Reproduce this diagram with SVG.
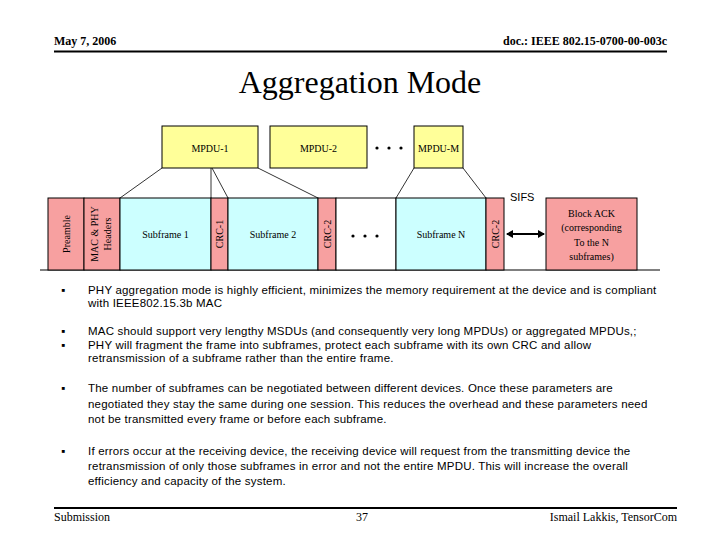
<svg xmlns="http://www.w3.org/2000/svg" width="720" height="540" viewBox="0 0 720 540">
<defs>
<style>
.serif{font-family:"Liberation Serif","Times New Roman",serif;fill:#000}
.sans{font-family:"Liberation Sans",Arial,sans-serif;fill:#000}
.box{stroke:#000;stroke-width:1}
.pink{fill:#F7A0A0}
.cyan{fill:#CCFFFF}
.yel{fill:#FFFF99}
.lbl{font-size:10px;text-anchor:middle}
.conn{stroke:#000;stroke-width:0.8;fill:none}
.body{font-size:11.5px;letter-spacing:0.2px}
</style>
<marker id="ah" markerWidth="8" markerHeight="8" refX="6" refY="4" orient="auto-start-reverse" markerUnits="userSpaceOnUse">
<path d="M0,0 L7,4 L0,8 Z" fill="#000"/>
</marker>
</defs>
<rect width="720" height="540" fill="#fff"/>

<!-- header -->
<text class="serif" x="54" y="45" font-size="12" font-weight="bold">May 7, 2006</text>
<text class="serif" x="667" y="45" font-size="12" font-weight="bold" text-anchor="end">doc.: IEEE 802.15-0700-00-003c</text>
<line x1="54" y1="51.5" x2="667" y2="51.5" stroke="#000" stroke-width="2"/>
<text class="serif" x="360" y="93" font-size="32" text-anchor="middle">Aggregation Mode</text>

<!-- MPDU row -->
<g id="mpdu1"><rect class="box yel" x="162" y="126" width="96" height="42"/><text class="serif lbl" x="210" y="151.5">MPDU-1</text></g>
<g id="mpdu2"><rect class="box yel" x="270" y="126" width="97" height="42"/><text class="serif lbl" x="318.5" y="151.5">MPDU-2</text></g>
<g id="mpduDots"><circle cx="377" cy="148" r="1.6"/><circle cx="389" cy="148" r="1.6"/><circle cx="401" cy="148" r="1.6"/></g>
<g id="mpduM"><rect class="box yel" x="414" y="126" width="49" height="42"/><text class="serif lbl" x="438.5" y="151.5">MPDU-M</text></g>

<!-- connectors -->
<g id="connectors">
<line class="conn" x1="162" y1="168" x2="120" y2="198"/>
<line class="conn" x1="211" y1="168" x2="211" y2="198"/>
<line class="conn" x1="212" y1="168" x2="228" y2="198"/>
<line class="conn" x1="258" y1="168" x2="318" y2="198"/>
<line class="conn" x1="414" y1="168" x2="396" y2="198"/>
<line class="conn" x1="463" y1="168" x2="486" y2="198"/>
<line x1="507" y1="234" x2="544" y2="234" stroke="#000" stroke-width="2" marker-start="url(#ah)" marker-end="url(#ah)"/>
</g>

<!-- frame row -->
<line x1="40" y1="270" x2="660" y2="270" stroke="#000" stroke-width="1"/>
<g id="preamble"><rect class="box pink" x="48" y="198" width="36" height="72"/><text class="serif lbl" transform="translate(69.5,234) rotate(-90)">Preamble</text></g>
<g id="headers"><rect class="box pink" x="84" y="198" width="36" height="72"/><text class="serif lbl" transform="translate(98,234) rotate(-90)">MAC &amp; PHY</text><text class="serif lbl" transform="translate(111,234) rotate(-90)">Headers</text></g>
<g id="sub1"><rect class="box cyan" x="120" y="198" width="91" height="72"/><text class="serif lbl" x="165.5" y="237.5">Subframe 1</text></g>
<g id="crc1"><rect class="box pink" x="211" y="198" width="17" height="72"/><text class="serif lbl" transform="translate(223,234) rotate(-90)">CRC-1</text></g>
<g id="sub2"><rect class="box cyan" x="228" y="198" width="90" height="72"/><text class="serif lbl" x="273" y="237.5">Subframe 2</text></g>
<g id="crc2"><rect class="box pink" x="318" y="198" width="18" height="72"/><text class="serif lbl" transform="translate(330.5,234) rotate(-90)">CRC-2</text></g>
<g id="dots"><rect class="box" x="336" y="198" width="60" height="72" fill="#fff"/><circle cx="353" cy="236" r="1.6"/><circle cx="365" cy="236" r="1.6"/><circle cx="377" cy="236" r="1.6"/></g>
<g id="subN"><rect class="box cyan" x="396" y="198" width="90" height="72"/><text class="serif lbl" x="441" y="237.5">Subframe N</text></g>
<g id="crcN"><rect class="box pink" x="486" y="198" width="18" height="72"/><text class="serif lbl" transform="translate(498.5,234) rotate(-90)">CRC-2</text></g>
<g id="sifs"><text class="sans" x="510" y="201" font-size="11">SIFS</text></g>
<g id="blockack"><rect class="box pink" x="546" y="198" width="91" height="72"/>
<text class="serif lbl" x="591.5" y="216.5">Block ACK</text>
<text class="serif lbl" x="591.5" y="231">(corresponding</text>
<text class="serif lbl" x="591.5" y="245.5">To the N</text>
<text class="serif lbl" x="591.5" y="260">subframes)</text></g>

<!-- bullets -->
<g class="sans body">
<text x="61" y="293.5">▪</text>
<text x="88" y="293.5">PHY aggregation mode is highly efficient, minimizes the memory requirement at the device and is compliant</text>
<text x="88" y="306.5">with IEEE802.15.3b MAC</text>
<text x="61" y="335">▪</text>
<text x="88" y="335">MAC should support very lengthy MSDUs (and consequently very long MPDUs) or aggregated MPDUs,;</text>
<text x="61" y="348.5">▪</text>
<text x="88" y="348.5">PHY will fragment the frame into subframes, protect each subframe with its own CRC and allow</text>
<text x="88" y="361.5">retransmission of a subframe rather than the entire frame.</text>
<text x="61" y="392">▪</text>
<text x="88" y="392">The number of subframes can be negotiated between different devices. Once these parameters are</text>
<text x="88" y="407.5">negotiated they stay the same during one session. This reduces the overhead and these parameters need</text>
<text x="88" y="423">not be transmitted every frame or before each subframe.</text>
<text x="61" y="455">▪</text>
<text x="88" y="455">If errors occur at the receiving device, the receiving device will request from the transmitting device the</text>
<text x="88" y="470">retransmission of only those subframes in error and not the entire MPDU. This will increase the overall</text>
<text x="88" y="485">efficiency and capacity of the system.</text>
</g>

<!-- footer -->
<line x1="54" y1="508" x2="677" y2="508" stroke="#000" stroke-width="2"/>
<text class="serif" x="54" y="521" font-size="12">Submission</text>
<text class="serif" x="362" y="521" font-size="12" text-anchor="middle">37</text>
<text class="serif" x="677" y="521" font-size="12" text-anchor="end">Ismail Lakkis, TensorCom</text>
</svg>
